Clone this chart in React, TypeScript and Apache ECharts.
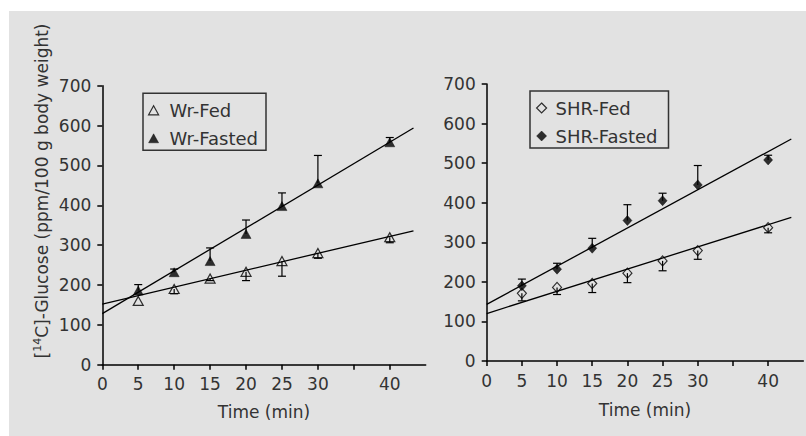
import React, { useEffect, useRef } from "react";
import * as echarts from "echarts";

const times = [5, 10, 15, 20, 25, 30, 40];
const wrFed = [160, 190, 216, 233, 260, 280, 320];
const wrFedErr = [0, 12, 5, 22, 38, 13, 14];
const wrFasted = [186, 232, 260, 328, 398, 455, 558];
const wrFastedErr = [15, 8, 33, 35, 33, 70, 12];
const shrFed = [171, 186, 196, 222, 253, 279, 337];
const shrFedErr = [19, 18, 23, 24, 25, 22, 13];
const shrFasted = [190, 232, 285, 355, 405, 445, 508];
const shrFastedErr = [17, 15, 25, 40, 19, 49, 12];

const fitX = [0, 43.3];
const wrFedFit = [152, 336];
const wrFastedFit = [128, 594];
const shrFedFit = [120, 363];
const shrFastedFit = [143, 561];

const xTicks = [0, 5, 10, 15, 20, 25, 30, 35, 40];
const xLabels = [0, 5, 10, 15, 20, 25, 30, 40];

const FONT = "DejaVu Sans";
const TXT = "#333";

const pts = (ys: number[]) => times.map((t, i) => [t, ys[i]]);
const fit = (ys: number[]) => fitX.map((x, i) => [x, ys[i]]);
const errData = (ys: number[], es: number[], dir: number) =>
  times.map((t, i) => [t, ys[i], ys[i] + dir * es[i]]);

const errSeries = (idx: number, ys: number[], es: number[], dir: number) => ({
  type: "custom",
  xAxisIndex: idx,
  yAxisIndex: idx,
  silent: true,
  data: errData(ys, es, dir),
  renderItem: (params: any, api: any) => {
    const x = api.value(0);
    const y0 = api.value(1);
    const y1 = api.value(2);
    if (y0 === y1) return { type: "group", children: [] };
    const p0 = api.coord([x, y0]);
    const p1 = api.coord([x, y1]);
    const st = { stroke: "#000", lineWidth: 1.2 };
    return {
      type: "group",
      children: [
        { type: "line", shape: { x1: p0[0], y1: p0[1], x2: p1[0], y2: p1[1] }, style: st },
        { type: "line", shape: { x1: p1[0] - 4, y1: p1[1], x2: p1[0] + 4, y2: p1[1] }, style: st },
      ],
    };
  },
});

const lineSeries = (idx: number, name: string, ys: number[]) => ({
  type: "line",
  name,
  xAxisIndex: idx,
  yAxisIndex: idx,
  data: fit(ys),
  symbol: "none",
  silent: true,
  lineStyle: { color: "#000", width: 1.3 },
});

const TRI = "path://M5,0L10,9L0,9Z";
const DIA = "path://M5,0L10,5L5,10L0,5Z";

const scatterSeries = (idx: number, name: string, ys: number[], icon: string, size: number[], open: boolean) => ({
  type: "scatter",
  name,
  xAxisIndex: idx,
  yAxisIndex: idx,
  data: pts(ys),
  symbol: icon,
  symbolSize: size,
  z: 5,
  itemStyle: open
    ? { color: "transparent", borderColor: "#000", borderWidth: 1.2 }
    : { color: "#000", borderColor: "#000", borderWidth: 0.5 },
});

const xAxis = (idx: number, gap: number) => ({
  type: "value",
  gridIndex: idx,
  min: 0,
  max: 45,
  interval: 5,
  name: "Time (min)",
  nameLocation: "middle",
  nameGap: gap,
  nameTextStyle: { fontFamily: FONT, fontSize: 17, color: TXT },
  splitLine: { show: false },
  axisLine: { lineStyle: { color: "#000", width: 1.5 } },
  axisTick: { length: 5, inside: false, lineStyle: { color: "#000", width: 1.5 }, customValues: xTicks },
  axisLabel: { fontFamily: FONT, fontSize: 17, color: TXT, margin: 11, customValues: xLabels },
});

const yAxis = (idx: number) => ({
  type: "value",
  gridIndex: idx,
  min: 0,
  max: 700,
  interval: 100,
  splitLine: { show: false },
  axisLine: { show: true, lineStyle: { color: "#000", width: 1.5 } },
  axisTick: { show: true, length: 5, lineStyle: { color: "#000", width: 1.5 } },
  axisLabel: { fontFamily: FONT, fontSize: 17, color: TXT, margin: 11 },
});

const legend = (left: number, top: number, names: string[], icon: string, iw: number, ih: number, pad: number[]) => ({
  left,
  top,
  orient: "vertical",
  itemWidth: iw,
  itemHeight: ih,
  itemGap: 10,
  padding: pad,
  borderColor: "#333",
  borderWidth: 1.5,
  borderRadius: 0,
  textStyle: { fontFamily: FONT, fontSize: 18, color: TXT },
  data: [
    { name: names[0], icon, itemStyle: { color: "transparent", borderColor: "#000", borderWidth: 1.2 } },
    { name: names[1], icon, itemStyle: { color: "#000", borderColor: "#000", borderWidth: 0.5 } },
  ],
});

export default function App() {
  const ref = useRef<HTMLDivElement>(null);
  useEffect(() => {
    if (!ref.current) return;
    const chart = echarts.init(ref.current, null, { renderer: "svg" });
    chart.setOption({
      animation: false,
      backgroundColor: "#e2e2e2",
      grid: [
        { left: 93.3, top: 74.7, width: 323.4, height: 279 },
        { left: 477.7, top: 73, width: 316.6, height: 277 },
      ],
      xAxis: [xAxis(0, 38.5), xAxis(1, 40.5)],
      yAxis: [yAxis(0), yAxis(1)],
      legend: [
        legend(134, 82.3, ["Wr-Fed", "Wr-Fasted"], TRI, 22, 9, [8, 8, 3, 5]),
        legend(521, 80, ["SHR-Fed", "SHR-Fasted"], DIA, 18, 10, [8, 11, 3, 6]),
      ],
      graphic: [
        {
          type: "text",
          x: 32.7,
          y: 180,
          rotation: Math.PI / 2,
          style: {
            text: "{a|[}{s|14}{a|C]-Glucose (ppm/100 g body weight)}",
            textAlign: "center",
            textVerticalAlign: "middle",
            fill: TXT,
            rich: {
              a: { fontFamily: FONT, fontSize: 17, fill: TXT, lineHeight: 20 },
              s: { fontFamily: FONT, fontSize: 11, fill: TXT, lineHeight: 20, verticalAlign: "top", padding: [0, 0, 8, 0] },
            },
          },
        },
      ],
      series: [
        errSeries(0, wrFed, wrFedErr, -1),
        errSeries(0, wrFasted, wrFastedErr, 1),
        lineSeries(0, "wrFedFit", wrFedFit),
        lineSeries(0, "wrFastedFit", wrFastedFit),
        scatterSeries(0, "Wr-Fed", wrFed, TRI, [10, 9], true),
        scatterSeries(0, "Wr-Fasted", wrFasted, TRI, [10, 9], false),
        errSeries(1, shrFed, shrFedErr, -1),
        errSeries(1, shrFasted, shrFastedErr, 1),
        lineSeries(1, "shrFedFit", shrFedFit),
        lineSeries(1, "shrFastedFit", shrFastedFit),
        scatterSeries(1, "SHR-Fed", shrFed, DIA, [9, 10], true),
        scatterSeries(1, "SHR-Fasted", shrFasted, DIA, [9, 10], false),
      ],
    });
    return () => chart.dispose();
  }, []);
  return (
    <div
      ref={ref}
      style={{ position: "absolute", left: 9, top: 11, width: 797, height: 425 }}
    />
  );
}
